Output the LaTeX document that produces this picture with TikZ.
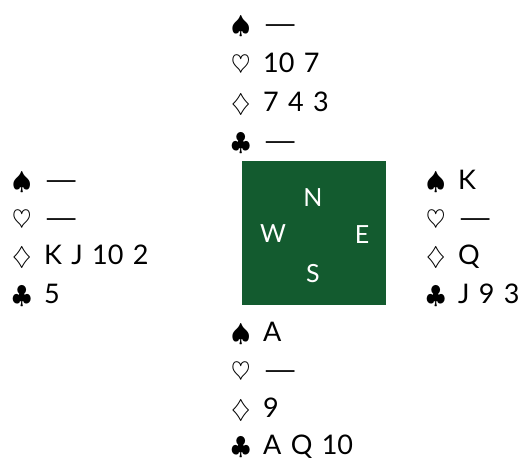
\documentclass[tikz,border=0pt]{standalone}
\usepackage{fontspec}
\setmainfont{Lato}[WordSpace=1.35]
\definecolor{feltgreen}{RGB}{19,91,47}
\newcommand{\suitrow}[2]{\makebox[32pt][l]{\fontsize{27}{30}\selectfont\(#1\)}#2}
\newcommand{\vd}{\scalebox{1.6}[1]{—}}
\begin{document}
\begin{tikzpicture}[x=1pt,y=-1pt,
  row/.style={anchor=base west,inner sep=0pt,font=\fontsize{27}{30}\selectfont},
  compass/.style={anchor=base,inner sep=0pt,text=white,font=\fontsize{25}{28}\selectfont}]
\useasboundingbox (0,0) rectangle (519,461);
\node[fill=feltgreen,minimum size=144pt,inner sep=0pt] (table) at (314,233) {};
\node[compass] (N) at (313,206) {N};
\node[compass] (W) at (273,242) {W};
\node[compass] (E) at (362,243) {E};
\node[compass] (S) at (313,282) {S};
% North
\node[row] (n1) at (231,33) {\suitrow{\spadesuit}{\vd}};
\node[row] (n2) at (231,72) {\suitrow{\heartsuit}{10 7}};
\node[row] (n3) at (231,111) {\suitrow{\diamondsuit}{7 4 3}};
\node[row] (n4) at (231,150) {\suitrow{\clubsuit}{\vd}};
% West
\node[row] (w1) at (12,189) {\suitrow{\spadesuit}{\vd}};
\node[row] (w2) at (12,227) {\suitrow{\heartsuit}{\vd}};
\node[row] (w3) at (12,264) {\suitrow{\diamondsuit}{K J 10 2}};
\node[row] (w4) at (12,303) {\suitrow{\clubsuit}{5}};
% East
\node[row] (e1) at (426,189) {\suitrow{\spadesuit}{K}};
\node[row] (e2) at (426,227) {\suitrow{\heartsuit}{\vd}};
\node[row] (e3) at (426,264) {\suitrow{\diamondsuit}{Q}};
\node[row] (e4) at (426,303) {\suitrow{\clubsuit}{J 9 3}};
% South
\node[row] (s1) at (231,341) {\suitrow{\spadesuit}{A}};
\node[row] (s2) at (231,379) {\suitrow{\heartsuit}{\vd}};
\node[row] (s3) at (231,417) {\suitrow{\diamondsuit}{9}};
\node[row] (s4) at (231,454) {\suitrow{\clubsuit}{A Q 10}};
\end{tikzpicture}
\end{document}
